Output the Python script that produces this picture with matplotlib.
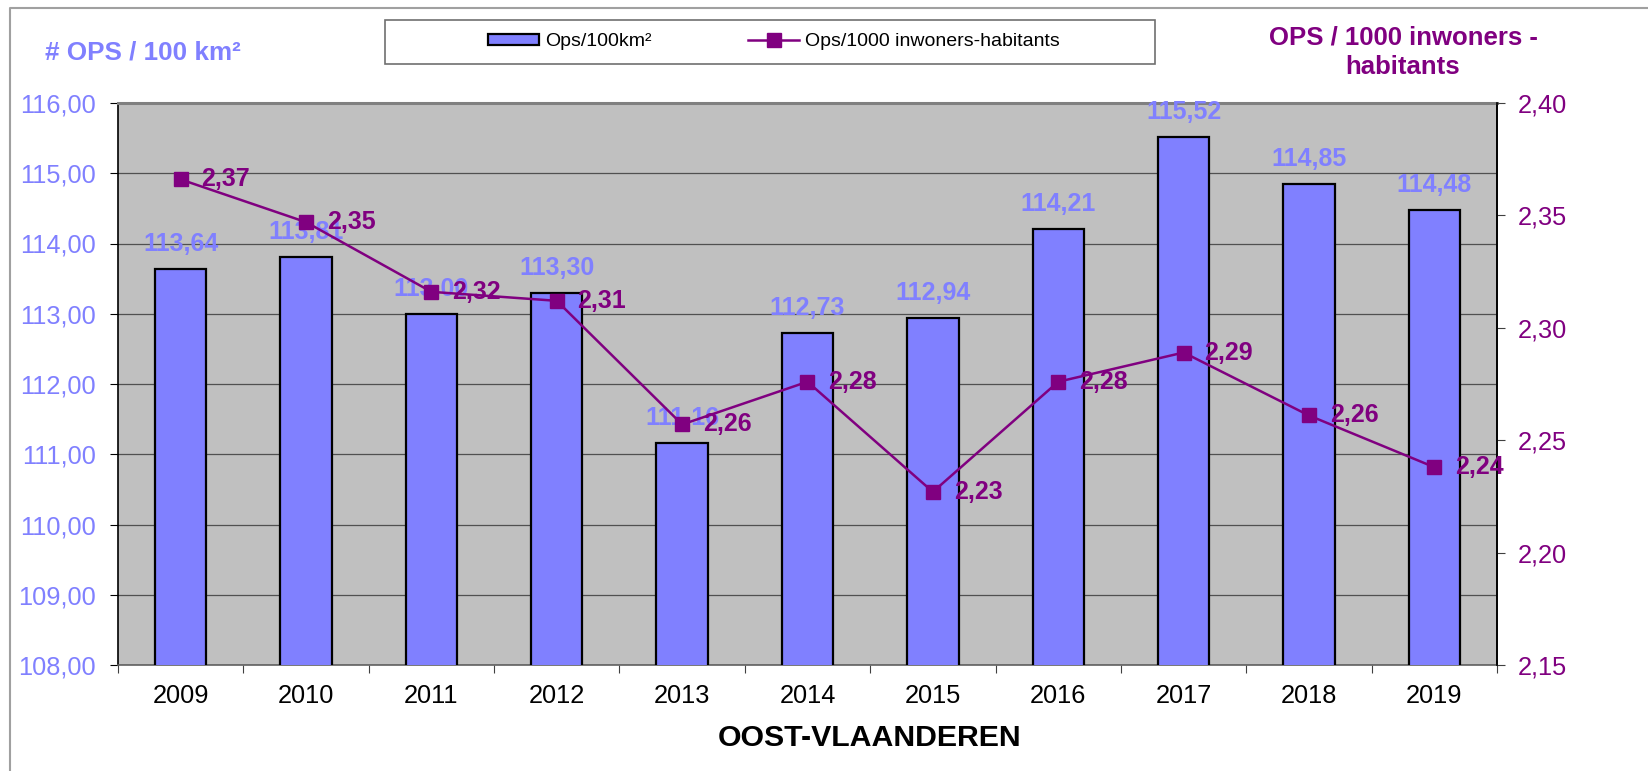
import matplotlib
matplotlib.use("Agg")
import matplotlib.pyplot as plt
from matplotlib.lines import Line2D
from matplotlib.patches import Rectangle, Patch
from matplotlib.ticker import FixedLocator
import numpy as np

plt.rcParams['font.family'] = ['Liberation Sans', 'DejaVu Sans']

years = ['2009', '2010', '2011', '2012', '2013', '2014', '2015', '2016', '2017', '2018', '2019']
ops_per_100km2 = [113.64, 113.81, 113.00, 113.30, 111.16, 112.73, 112.94, 114.21, 115.52, 114.85, 114.48]
ops_per_1000 = [2.366, 2.347, 2.316, 2.312, 2.257, 2.276, 2.227, 2.276, 2.289, 2.261, 2.238]
left_ticks = [108, 109, 110, 111, 112, 113, 114, 115, 116]
right_ticks = [2.15, 2.20, 2.25, 2.30, 2.35, 2.40]

BAR = '#8080FF'
PURPLE = '#800080'

W, H = 1648, 771
fig = plt.figure(figsize=(W / 100, H / 100), dpi=100)
fig.patch.set_facecolor('white')

def fx(px):
    return px / W

def fy(py):
    return 1 - py / H

ax = fig.add_axes([fx(118), fy(665), fx(1497) - fx(118), fy(103) - fy(665)])
ax.set_facecolor('#C0C0C0')
x = np.arange(len(years))

def fmt(v):
    return f"{v:.2f}".replace('.', ',')

ax.bar(x, ops_per_100km2, width=0.41, color=BAR, edgecolor='black', linewidth=1.6, zorder=3)
ax.set_ylim(108, 116)
ax.set_xlim(-0.5, len(years) - 0.5)
ax.set_yticks(left_ticks)
ax.set_yticklabels([fmt(v) for v in left_ticks])
ax.yaxis.grid(True, color='#505050', linewidth=0.9, zorder=1)
ax.set_axisbelow(True)
ax.tick_params(axis='y', colors='black', labelcolor=BAR, labelsize=18.3, length=6, width=0.8, direction='out', pad=10)
ax.set_xticks(x)
ax.set_xticklabels(years)
ax.xaxis.set_minor_locator(FixedLocator(np.arange(-0.5, len(years), 1.0)))
ax.tick_params(axis='x', which='major', length=0, labelsize=18.3, pad=14)
ax.tick_params(axis='x', which='minor', length=5.5, width=0.8, color='#404040')

for xi, v in zip(x, ops_per_100km2):
    ax.annotate(fmt(v), (xi, v), xytext=(0, 12.8), textcoords='offset points',
                ha='center', va='baseline', color=BAR, fontsize=18, fontweight='bold', zorder=4)

ax.spines['top'].set_color('#808080')
ax.spines['top'].set_linewidth(2.2)
ax.spines['bottom'].set_color('#606060')
ax.spines['bottom'].set_linewidth(1.2)
ax.spines['left'].set_color('black')
ax.spines['left'].set_linewidth(1.2)
ax.spines['right'].set_color('black')
ax.spines['right'].set_linewidth(1.2)

ax2 = ax.twinx()
ax2.patch.set_visible(False)
ax2.plot(x, ops_per_1000, color=PURPLE, linewidth=1.8, marker='s', markersize=10,
         markerfacecolor=PURPLE, markeredgecolor=PURPLE, zorder=5)
ax2.set_ylim(2.15, 2.40)
ax2.set_yticks(right_ticks)
ax2.set_yticklabels([fmt(v) for v in right_ticks])
ax2.tick_params(axis='y', colors='#404040', labelcolor=PURPLE, labelsize=18.3, length=6, width=0.8, pad=9)
for s in ['top', 'bottom', 'left']:
    ax2.spines[s].set_visible(False)
ax2.spines['right'].set_color('black')
ax2.spines['right'].set_linewidth(1.2)

for xi, v in zip(x, ops_per_1000):
    ax2.annotate(fmt(v), (xi, v), xytext=(15, 0), textcoords='offset points',
                 ha='left', va='center', color=PURPLE, fontsize=18, fontweight='bold', zorder=6)

# axis titles
fig.text(fx(45), fy(52), '# OPS / 100 km²', color=BAR, fontsize=18.7, fontweight='bold',
         ha='left', va='center')
fig.text(fx(1403), fy(52), 'OPS / 1000 inwoners -\nhabitants', color=PURPLE, fontsize=18.5,
         fontweight='bold', ha='center', va='center', linespacing=1.28)
fig.text(fx(870), fy(738), 'OOST-VLAANDEREN', color='black', fontsize=21.8, fontweight='bold',
         ha='center', va='center')

# legend frame and legend
fig.patches.append(Rectangle((fx(385), fy(64)), fx(1155) - fx(385), fy(20) - fy(64),
                             transform=fig.transFigure, facecolor='white', edgecolor='#707070',
                             linewidth=1.2, zorder=1))
handles = [Patch(facecolor=BAR, edgecolor='black', linewidth=1.6),
           Line2D([0], [0], color=PURPLE, linewidth=1.8, marker='s', markersize=9.5,
                  markerfacecolor=PURPLE, markeredgecolor=PURPLE)]
leg = fig.legend(handles, ['Ops/100km²', 'Ops/1000 inwoners-habitants'], loc='center',
                 bbox_to_anchor=(fx(774), fy(42)), ncol=2, frameon=False, fontsize=14,
                 handlelength=2.6, handleheight=0.55, handletextpad=0.3, columnspacing=5.0)

# outer chart border
fig.lines.append(Line2D([fx(9.5), fx(9.5), fx(1648)], [fy(771), fy(8), fy(8)],
                        transform=fig.transFigure, color='#A0A0A0', linewidth=1.5))

fig.savefig('out.png', dpi=100, facecolor='white')
